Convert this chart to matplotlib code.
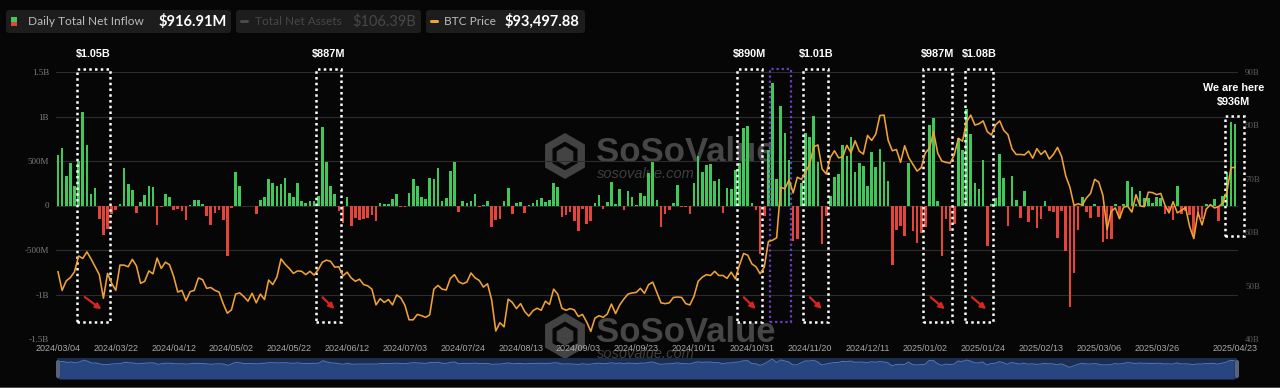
import matplotlib
matplotlib.use("Agg")
import matplotlib.pyplot as plt
from matplotlib.patches import Rectangle, FancyBboxPatch, RegularPolygon
from matplotlib.transforms import IdentityTransform
import numpy as np
import pandas as pd

# ---- data -------------------------------------------------------------
# US market holidays inside the window (no ETF flow those days)
holidays = ["2024-03-29", "2024-05-27", "2024-06-19", "2024-07-04", "2024-09-02",
            "2024-11-28", "2024-12-25", "2025-01-01", "2025-01-09", "2025-01-20",
            "2025-02-17", "2025-04-18"]
dates = pd.bdate_range("2024-03-04", "2025-04-23")
dates = dates[~dates.isin(pd.to_datetime(holidays))]

# daily total net inflow, US$ M
flows = [
    # 2024-03
    562, 648, 332, 473, 223, 505, 1050, 684, 132, 200, -154, -326, -262, -94, -53, 15, 418, 243, 179,
    # 2024-04
    -86, 40, 113, 214, 204, -224, -18, 124, 90, -55, -37, -59, -165, 2, 60, 62, 21, -121, -218, -85, -51, -162,
    # 2024-05
    -564, -33, 378, 217, -2, -11, 0, -90, 66, 100, 303, 257, 222, 241, 306, 140, 100, 253, 45, 27, 49, 49,
    # 2024-06
    105, 887, 488, 218, 131, -65, -200, 101, -226, -146, -160, -152, -140, -110, -175, 31, 21, 12, 73,
    # 2024-07
    129, -14, -20, 143, 295, 216, 100, 73, 310, 301, 423, 53, 84, 384, 486, -78, 45, 31, 48, 124, -15, 3,
    # 2024-08
    51, -237, -168, -149, 45, 195, -90, 28, 39, -81, 11, 33, 62, 88, 39, 65, 252, 203, -127, -105, -72, -175,
    # 2024-09
    -288, -37, -211, -170, 29, 117, -43, 39, 263, 13, 187, -53, 158, 93, 5, 136, 106, 366, 494, 61,
    # 2024-10
    -243, -92, -54, 26, 235, -19, -17, -100, 254, 556, 371, 459, 471, 274, 294, -79, 192, 188, 402,
    479, 870, 890, 25,
    # 2024-11
    -55, -541, -117, 622, 1376, 294, 1114, 818, 510, -401, -371, 255, 816, 773, 1010, 490, -438, -123, 105, 320,
    # 2024-12
    354, 677, 556, 767, 377, 479, 439, 223, 597, 429, 637, 493, 275, -672, -277, -227, -338, 475, -288,
    -426, -313,
    # 2025-01
    -242, 908, 987, 52, -569, -149, -284, -205, 755, 626, 1080, 803, 249, 189, 515, -458, 20, 86, 582, 310,
    # 2025-02
    -231, 336, 66, -140, 160, -180, -56, -251, -157, 56, -61, -71, -365, -62, -516, -1140, -755, -276, 94,
    # 2025-03
    -74, -143, 22, -134, -409, -371, -371, 13, -135, 13, 275, 209, 12, 166, 83, 84, 27, 90, 89, -93, -61,
    # 2025-04
    -158, 221, -100, -65, -109, -326, -127, -150, 15, 2, 76, -171, 107, 381, 936, 917,
]

# BTC price, US$ K
btc = [
    # 2024-03
    68.3, 63.8, 66.1, 66.9, 68.3, 72.1, 71.5, 73.1, 71.4, 69.5, 67.6, 61.9, 67.9, 65.5, 63.8, 69.9, 69.9,
    69.5, 71.3,
    # 2024-04
    69.7, 65.5, 66.0, 68.5, 67.8, 71.6, 69.1, 70.6, 70.0, 67.2, 63.4, 63.8, 61.3, 63.5, 63.8, 66.8, 66.4,
    64.3, 64.5, 63.8, 63.4, 60.6,
    # 2024-05
    58.3, 59.1, 62.9, 63.2, 62.3, 61.2, 63.1, 60.8, 62.9, 61.6, 66.3, 65.2, 67.0, 71.4, 70.1, 69.1, 67.9,
    68.5, 68.4, 67.6, 68.4, 67.5,
    # 2024-06
    68.8, 70.6, 71.1, 70.8, 69.4, 69.5, 67.3, 68.2, 66.8, 66.0, 66.5, 65.2, 64.9, 64.1, 60.3, 61.8, 60.9,
    61.6, 60.3,
    # 2024-07
    62.7, 62.0, 60.2, 56.7, 56.7, 58.0, 57.7, 57.3, 57.9, 64.1, 65.0, 64.1, 63.9, 66.7, 67.6, 65.9, 65.4,
    65.8, 68.0, 66.8, 66.2, 64.6,
    # 2024-08
    65.4, 61.5, 54.0, 56.0, 55.0, 61.7, 60.9, 59.4, 60.6, 58.7, 57.6, 58.9, 59.5, 59.0, 61.2, 60.4, 64.1,
    62.9, 59.5, 59.0, 59.4, 59.1,
    # 2024-09
    57.5, 58.0, 56.2, 53.9, 57.1, 57.7, 57.3, 58.1, 60.5, 58.2, 60.3, 61.7, 62.9, 63.2, 63.3, 64.3, 63.1,
    65.2, 65.8, 63.3,
    # 2024-10
    60.8, 60.6, 60.8, 62.1, 62.2, 62.1, 60.6, 60.3, 62.4, 66.0, 67.0, 67.6, 67.4, 68.4, 67.4, 67.4, 66.7,
    68.2, 66.6, 69.9, 72.7, 72.3, 70.2,
    # 2024-11
    69.5, 67.8, 69.4, 75.6, 75.9, 76.5, 88.7, 88.3, 90.5, 87.3, 91.1, 90.6, 92.3, 94.3, 98.5, 98.9, 93.1,
    91.9, 95.9, 97.5,
    # 2024-12
    95.8, 96.0, 98.8, 97.0, 99.9, 97.4, 96.7, 101.2, 100.0, 101.5, 106.0, 106.1, 100.0, 97.5, 97.8, 94.7,
    98.7, 95.8, 94.2, 92.6, 93.4,
    # 2025-01
    97.0, 98.1, 102.1, 96.9, 95.0, 94.7, 94.5, 96.5, 100.5, 99.8, 104.5, 106.1, 103.7, 104.0, 104.7, 102.1,
    101.3, 103.7, 104.7, 102.4,
    # 2025-02
    101.4, 97.9, 96.6, 96.6, 96.5, 97.4, 95.7, 98.0, 96.6, 97.5, 95.5, 96.6, 98.3, 96.1, 91.4, 88.7, 84.3,
    84.7, 84.4,
    # 2025-03
    86.1, 87.2, 90.6, 89.9, 86.7, 78.5, 82.9, 83.7, 81.1, 83.9, 84.1, 82.7, 86.9, 84.2, 84.0, 87.5, 87.4,
    86.9, 87.2, 84.4, 82.5,
    # 2025-04
    85.2, 82.5, 83.1, 83.8, 79.2, 76.3, 82.6, 79.6, 83.4, 84.5, 83.7, 84.0, 84.9, 87.5, 93.4, 93.5,
]

tick_dates = ["2024/03/04", "2024/03/22", "2024/04/12", "2024/05/02", "2024/05/22", "2024/06/12",
              "2024/07/03", "2024/07/24", "2024/08/13", "2024/09/03", "2024/09/23", "2024/10/11",
              "2024/10/31", "2024/11/20", "2024/12/11", "2025/01/02", "2025/01/24", "2025/02/13",
              "2025/03/06", "2025/03/26", "2025/04/23"]
left_ticks = [-1500, -1000, -500, 0, 500, 1000, 1500]
left_labels = ["-1.5B", "-1B", "-500M", "0", "500M", "1B", "1.5B"]
right_ticks = [40, 50, 60, 70, 80, 90]
right_labels = ["40B", "50B", "60B", "70B", "80B", "90B"]

windows = [("2024-03-11", "2024-03-20", "$1.05B"),
           ("2024-06-03", "2024-06-10", "$887M"),
           ("2024-10-28", "2024-11-04", "$890M"),
           ("2024-11-19", "2024-11-26", "$1.01B"),
           ("2025-01-02", "2025-01-13", "$987M"),
           ("2025-01-17", "2025-01-28", "$1.08B")]
purple_window = ("2024-11-07", "2024-11-13")
here_window = ("2025-04-21", "2025-04-23", "We are here\n$936M")

assert len(flows) == len(dates) == len(btc)

# ---- style ------------------------------------------------------------
W, H = 1280, 388
bg = "#060606"
green = "#40c95a"
red = "#e5443b"
orange = "#f0a235"
grid = "#2c2c2c"

x = np.arange(len(dates))
idx = {d.strftime("%Y-%m-%d"): i for i, d in enumerate(dates)}
idx_slash = {d.strftime("%Y/%m/%d"): i for i, d in enumerate(dates)}

fig = plt.figure(figsize=(W / 100, H / 100), dpi=100, facecolor=bg)
ax = fig.add_axes([56 / W, 1 - 339 / H, (1238 - 56) / W, (339 - 72) / H])
ax.set_facecolor(bg)
ax.set_xlim(-0.48, 285.7)
ax.set_ylim(-1500, 1500)

colors = [green if v >= 0 else red for v in flows]
ax.bar(x, flows, width=0.64, color=colors, zorder=2)

ax.set_yticks(left_ticks)
ax.set_yticklabels(left_labels, family="Liberation Serif", fontsize=6.5, color="#7c7c7c")
ax.grid(axis="y", color=grid, lw=0.8, zorder=0)
ax.tick_params(axis="y", length=0, pad=5)
ax.set_xticks([idx_slash[t] for t in tick_dates])
ax.set_xticklabels(tick_dates, family="Liberation Sans", fontsize=6.5, color="#a8a8a8")
ax.tick_params(axis="x", length=0, pad=3.5)
for s in ax.spines.values():
    s.set_visible(False)

# right axis labels
ax2 = ax.twinx()
ax2.set_ylim(40, 90)
ax2.set_yticks(right_ticks)
ax2.set_yticklabels(right_labels, family="Liberation Serif", fontsize=6.3, color="#5e5e5e")
ax2.tick_params(axis="y", length=0, pad=5)
for s in ax2.spines.values():
    s.set_visible(False)

# price line
ax3 = ax.twinx()
ax3.set_ylim(52.07, 116.5)
ax3.plot(x, btc, color=orange, lw=1.15, zorder=5)
ax3.set_yticks([])
for s in ax3.spines.values():
    s.set_visible(False)

# watermark (below bars)
def watermark(cx, cy):
    tr = IdentityTransform()
    hexa = RegularPolygon((cx - 75, H - cy), numVertices=6, radius=23, facecolor="#434343",
                          edgecolor="none", transform=tr, zorder=0.6, clip_on=False)
    ax.add_artist(hexa)
    inner = RegularPolygon((cx - 75, H - cy), numVertices=6, radius=12, facecolor="none",
                           edgecolor=bg, lw=3, transform=tr, zorder=0.7, clip_on=False)
    ax.add_artist(inner)
    ax.text(cx - 44, H - cy + 3, "SoSoValue", transform=tr, fontsize=25, fontweight="bold",
            family="Liberation Sans", color="#464646", ha="left", va="center", zorder=0.6, clip_on=False)
    ax.text(cx - 43, H - cy - 18, "sosovalue.com", transform=tr, fontsize=10.5, style="italic",
            family="Liberation Sans", color="#3e3e3e", ha="left", va="center", zorder=0.6, clip_on=False)

watermark(640, 156)
watermark(640, 336)

# highlight boxes
box_top, box_bot = 1534, -1309
dot = (0, (1, 1.3))
for start, end, label in windows:
    x0, x1 = idx[start] - 0.5, idx[end] + 0.5
    ax.add_patch(Rectangle((x0, box_bot), x1 - x0, box_top - box_bot, fill=False,
                           edgecolor="white", lw=1.8, linestyle=dot, zorder=6, clip_on=False))
    ax.text((x0 + x1) / 2, 1697, label, color="white", fontsize=7.8, fontweight="bold",
            family="Liberation Sans", ha="center", va="center", clip_on=False)
    w = x1 - x0
    ax.annotate("", xy=(x0 + 0.82 * w, -1185), xytext=(x0 + 0.18 * w, -1010),
                arrowprops=dict(arrowstyle="-|>", color="#d8261f", lw=1.6, mutation_scale=8),
                zorder=7, annotation_clip=False)

p0, p1 = idx[purple_window[0]] - 0.5, idx[purple_window[1]] + 0.5
ax.add_patch(Rectangle((p0, box_bot), p1 - p0, box_top - box_bot, fill=False,
                       edgecolor="#6b40c0", lw=1.6, linestyle=dot, zorder=6, clip_on=False))

h0, h1 = idx[here_window[0]] - 0.4, idx[here_window[1]] + 2.2
ax.add_patch(Rectangle((h0, -345), h1 - h0, 1003 + 345, fill=False,
                       edgecolor="white", lw=1.8, linestyle=dot, zorder=6, clip_on=False))
ax.text((h0 + h1) / 2 - 0.3, 1240, here_window[2], color="white", fontsize=7.8, fontweight="bold",
        family="Liberation Sans", ha="center", va="center", linespacing=1.45, clip_on=False)

# ---- legend chips at the top ------------------------------------------
tr = IdentityTransform()

def chip(x0, x1):
    fig.patches.append(FancyBboxPatch((x0, H - 33), x1 - x0, 23, boxstyle="round,pad=0,rounding_size=3",
                                      facecolor="#1d1d1d", edgecolor="none", transform=tr))

chip(6, 231)
chip(236, 421)
chip(426, 585)
fig.patches.append(Rectangle((11, H - 21.5), 6, 4.5, facecolor=green, transform=tr))
fig.patches.append(Rectangle((11, H - 26), 6, 4.5, facecolor=red, transform=tr))
fig.patches.append(FancyBboxPatch((240, H - 23), 9, 3, boxstyle="round,pad=0,rounding_size=1.5",
                                  facecolor="#4a4a4a", edgecolor="none", transform=tr))
fig.patches.append(FancyBboxPatch((430, H - 23), 9, 3, boxstyle="round,pad=0,rounding_size=1.5",
                                  facecolor=orange, edgecolor="none", transform=tr))
ty = H - 21.5
fig.text(28, ty, "Daily Total Net Inflow", transform=tr, family="Lato", fontsize=8.6,
         color="#bcbcbc", va="center")
fig.text(159, ty, "$916.91M", transform=tr, family="Lato", fontsize=10.5, fontweight="bold",
         color="white", va="center")
fig.text(255, ty, "Total Net Assets", transform=tr, family="Lato", fontsize=8.6,
         color="#474747", va="center")
fig.text(352, ty, "$106.39B", transform=tr, family="Lato", fontsize=10.5,
         color="#474747", va="center")
fig.text(444, ty, "BTC Price", transform=tr, family="Lato", fontsize=8.6,
         color="#bcbcbc", va="center")
fig.text(505, ty, "$93,497.88", transform=tr, family="Lato", fontsize=10.5, fontweight="bold",
         color="white", va="center")

# ---- slider strip at the bottom ---------------------------------------
axs = fig.add_axes([57 / W, 1 - 379 / H, 1180 / W, 21 / H])
axs.set_facecolor("#1c2d52")
axs.set_xlim(-0.48, 285.7)
axs.set_ylim(-4700, 1700)
axs.fill_between(x, flows, -4700, color="#27467f", lw=0)
axs.plot(x, flows, color="#5275b3", lw=0.7)
axs.set_xticks([])
axs.set_yticks([])
for s in axs.spines.values():
    s.set_visible(False)
fig.patches.append(FancyBboxPatch((56, H - 378), 4, 18, boxstyle="round,pad=0,rounding_size=2",
                                  facecolor="#56637a", edgecolor="none", transform=tr))
fig.patches.append(FancyBboxPatch((1235, H - 378), 4, 18, boxstyle="round,pad=0,rounding_size=2",
                                  facecolor="#56637a", edgecolor="none", transform=tr))
fig.patches.append(Rectangle((0, 0), W, 1.5, facecolor="#505050", edgecolor="none", transform=tr))

fig.savefig("out.png", dpi=100, facecolor=bg)
